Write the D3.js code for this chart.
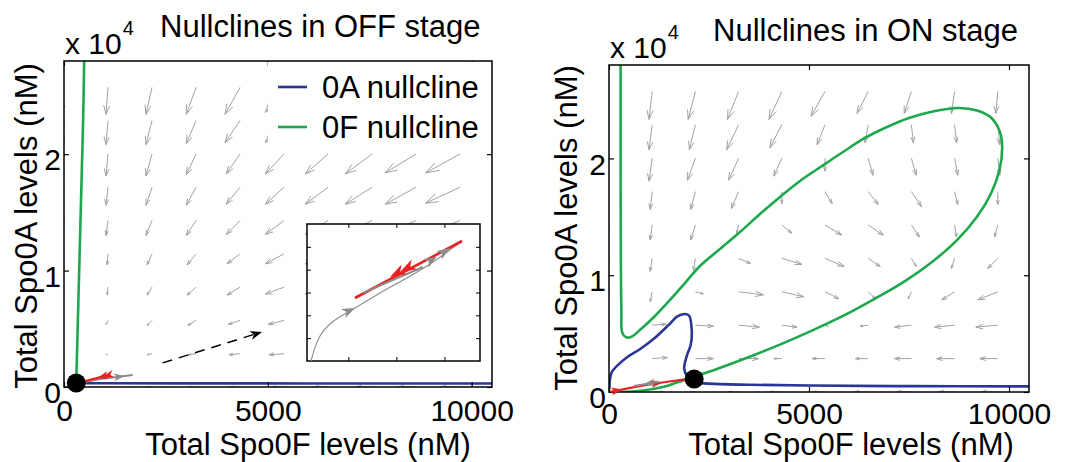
<!DOCTYPE html>
<html><head><meta charset="utf-8">
<script src="https://cdn.jsdelivr.net/npm/d3@7"></script>
<style>
body{margin:0;background:#fff}
text{font-family:"Liberation Sans",Arial,Helvetica,sans-serif;fill:#000}
</style>
</head><body>
<svg id="chart" width="1071" height="462"></svg>
<script>
// ---- axes / labels ----
const xTicks = [0, 5000, 10000];
const yTicks = [0, 10000, 20000];
const titles = ["Nullclines in OFF stage", "Nullclines in ON stage"];
const xLabel = "Total Spo0F levels (nM)";
const yLabel = "Total Spo0A levels (nM)";
const legendLabels = ["0A nullcline", "0F nullcline"];

// ---- vector-field grid (nM) ----
const xGrid = [0, 1080, 2160, 3240, 4320, 5400, 6480, 7560, 8640, 9720];
const yGrid = [0, 2860, 5720, 8580, 11440, 14300, 17160, 20020, 22880, 25740];

// OFF stage field components, rows follow yGrid, columns follow xGrid
const offU = [
  [0, -50, -120, -200, -240, -290, -340, -390, -440, -490],
  [0, -50, -120, -200, -270, -370, -460, -560, -660, -760],
  [-20, -50, -120, -200, -290, -390, -490, -590, -680, -780],
  [-50, -20, -120, -220, -320, -460, -560, -660, -760, -850],
  [-50, -20, -120, -220, -320, -460, -560, -660, -760, -850],
  [-50, -50, -150, -240, -340, -460, -560, -660, -760, -850],
  [-70, -50, -150, -240, -340, -460, -560, -660, -760, -850],
  [-70, -50, -150, -240, -340, -460, -560, -660, -760, -850],
  [-70, -50, -150, -240, -370, -460, -560, -660, -760, -850],
  [-70, -50, -150, -240, -370, -460, -560, -660, -760, -850]
];
const offV = [
  [0, 0, 0, 0, 0, 0, 0, 0, 0, 0],
  [-90, -90, -90, -90, -90, -90, -90, -90, -90, -90],
  [-340, -340, -430, -430, -340, -340, -340, -340, -340, -340],
  [-690, -690, -690, -690, -690, -600, -600, -600, -600, -600],
  [-950, -950, -950, -950, -860, -860, -860, -860, -860, -860],
  [-1290, -1290, -1290, -1290, -1200, -1200, -1200, -1120, -1120, -1120],
  [-1630, -1550, -1550, -1550, -1460, -1460, -1460, -1460, -1460, -1370],
  [-1890, -1890, -1890, -1800, -1720, -1720, -1720, -1720, -1630, -1630],
  [-2060, -2060, -2060, -1980, -1890, -1890, -1800, -1800, -1720, -1720],
  [-2320, -2320, -2320, -2320, -2320, -2150, -2060, -1980, -1890, -1800]
];

// ON stage field components
const onU = [
  [0, 300, -120, -250, -300, -320, -350, -380, -400, -420],
  [0, 380, 450, 500, -200, -320, -320, -420, -450, -450],
  [-20, 350, 450, 520, 380, 80, -200, -420, -500, -550],
  [-50, -50, 200, 620, 550, 350, 180, -80, -320, -500],
  [-80, -50, -50, 300, 500, 480, 300, 120, -80, -250],
  [-100, -50, -120, -50, 250, 420, 380, 200, 50, -80],
  [-120, -50, -120, -180, 0, 180, 250, 250, 80, 0],
  [-150, -80, -200, -250, -200, 0, 120, 120, 80, 50],
  [-180, -80, -150, -300, -300, -200, -80, 50, 50, 50],
  [-200, -80, -180, -280, -320, -350, -280, -180, -80, -50]
];
const onV = [
  [0, 0, 0, 0, 0, 0, 0, 0, 0, 0],
  [-170, 86, 0, 0, 0, 0, 0, 0, 0, 0],
  [-340, 86, -86, -170, -170, -86, -86, -170, -170, -170],
  [-690, -860, -170, -260, -430, -600, -600, -600, -690, -690],
  [-1030, -1110, -1030, -430, -510, -690, -690, -690, -860, -860],
  [-1370, -1290, -1290, -690, -690, -860, -860, -1030, -1030, -1030],
  [-1710, -1540, -1540, -1460, -1030, -1030, -1110, -1290, -1110, -1110],
  [-1890, -1970, -1890, -1890, -1540, -1110, -1460, -1460, -1460, -1460],
  [-2140, -2140, -2140, -2140, -1970, -1710, -1540, -1540, -1540, -1710],
  [-2140, -2400, -2400, -2400, -2400, -2140, -1890, -1890, -1890, -1890]
];

// ---- nullclines [Spo0F, Spo0A] in nM ----
const off0A = [[200, 320], [1000, 320], [3000, 315], [6000, 305], [10500, 300]];
const off0F = [[300, 300], [320, 3000], [350, 7000], [380, 11000], [410, 15000], [440, 19000], [470, 23000], [495, 28000]];
const on0A = [[10, 300], [25, 1100], [70, 1700], [220, 2300], [460, 3000], [790, 3700], [1120, 4550], [1480, 5700], [1700, 6450],
  [1880, 6680], [2000, 6550], [2070, 5200], [2040, 4000], [1950, 3150], [1880, 2000], [1950, 1370], [2120, 880],
  [2500, 720], [3500, 620], [5000, 560], [7500, 500], [10500, 480]];
const on0F = [[290, 28000], [290, 20000], [295, 12000], [310, 7000], [330, 5100], [420, 4700], [550, 4710], [800, 5395],
  [1150, 6510], [1525, 7880], [1900, 9330], [2275, 10790], [2775, 12250], [3275, 13700], [3775, 15240], [4275, 16700],
  [4775, 18070], [5325, 19350], [5850, 20550], [6400, 21750], [6950, 22690], [7500, 23460], [8150, 24060], [8750, 24320],
  [9200, 24100], [9550, 23500], [9780, 22200], [9830, 21000],
  [9760, 19000], [9550, 17000], [9200, 15000], [8700, 13000], [8100, 11200], [7400, 9500], [6650, 8000], [5900, 6600],
  [5100, 5300], [4300, 4100], [3500, 3000], [2800, 2100], [2300, 1500], [2000, 1150], [1700, 820], [1370, 450],
  [790, 100], [300, 0]];

// ---- steady states and trajectories ----
const offSteady = [300, 340];
const onSteady = [2130, 1110];
const offGrayPath = [[310, 330], [900, 680], [1685, 1040]];
const offGrayHeads = [[390, 378], [1490, 950]];
const offRedPath = [[1124, 1060], [780, 740], [432, 420]];
const offRedHeads = [[950, 880], [820, 770]];
const onRedPath = [[30, 20], [500, 330], [1000, 640], [1500, 900], [1950, 1110]];
const onRedHeads = [[330, 220], [1330, 820]];
const onGrayPath = [[1250, 880], [623, 514]];
const onGrayHeads = [[872, 668]];
const zoomArrow = [[2418, 2070], [4861, 4734]];

// ---- inset: close-up of the OFF-stage trajectory ----
const insetXTicks = [500, 1000, 1500];
const insetYTicks = [200, 400, 600, 800, 1000];
const insetGray = [[112, 0], [143, 96], [205, 219], [309, 324], [445, 403], [569, 464], [830, 596], [1090, 718], [1350, 850], [1683, 1051]];
const insetGrayBold = [[653, 596], [1277, 823]];
const insetGrayHeads = [[569, 464], [1420, 914], [1558, 987]];
const insetRed = [[569, 552], [1683, 1051]];
const insetRedHeads = [[934, 736], [1038, 780]];

const BLUE = "#2b3595", GREEN = "#1da84d", RED = "#ec2024", GRAY = "#8c8c8c", QGRAY = "#a3a3a3";

const svg = d3.select("#chart");

function arrowHead(g, x, y, angle, len, wid, color) {
  const p = `M0,0 L${-len},${-wid / 2} L${-0.72 * len},0 L${-len},${wid / 2} Z`;
  g.append("path").attr("d", p).attr("fill", color)
    .attr("transform", `translate(${x},${y}) rotate(${angle * 180 / Math.PI})`);
}

function quiver(g, sx, sy, U, V) {
  const a = 0.33, b = 0.33;
  yGrid.forEach((yv, r) => {
    xGrid.forEach((xv, c) => {
      const X = sx(xv), Y = sy(yv);
      const X2 = sx(xv + U[r][c]), Y2 = sy(yv + V[r][c]);
      const dx = X2 - X, dy = Y2 - Y;
      if (Math.hypot(dx, dy) < 0.5) return;
      const h1x = X2 - a * (dx + b * dy), h1y = Y2 - a * (dy - b * dx);
      const h2x = X2 - a * (dx - b * dy), h2y = Y2 - a * (dy + b * dx);
      g.append("path")
        .attr("d", `M${X},${Y}L${X2},${Y2}M${h1x},${h1y}L${X2},${Y2}L${h2x},${h2y}`)
        .attr("fill", "none").attr("stroke", QGRAY).attr("stroke-width", 1);
    });
  });
}

function panel(cfg) {
  const sx = d3.scaleLinear().domain([0, 10500]).range([cfg.x0, cfg.x1]);
  const sy = d3.scaleLinear().domain([0, 28000]).range([cfg.y0, cfg.y1]);
  const line = d3.line().x(d => sx(d[0])).y(d => sy(d[1]));
  const smooth = d3.line().x(d => sx(d[0])).y(d => sy(d[1])).curve(d3.curveCatmullRom.alpha(0.5));
  const clipId = "clip" + cfg.id;
  svg.append("clipPath").attr("id", clipId).append("rect")
    .attr("x", cfg.x0).attr("y", cfg.y1).attr("width", cfg.x1 - cfg.x0).attr("height", cfg.y0 - cfg.y1);

  const plot = svg.append("g").attr("clip-path", `url(#${clipId})`);
  quiver(plot, sx, sy, cfg.U, cfg.V);
  plot.append("path").attr("d", smooth(cfg.nA)).attr("fill", "none").attr("stroke", BLUE).attr("stroke-width", 2.6).attr("stroke-linejoin", "round");
  plot.append("path").attr("d", smooth(cfg.nF)).attr("fill", "none").attr("stroke", GREEN).attr("stroke-width", 2.6).attr("stroke-linejoin", "round");

  // axes
  const fmtY = d => d / 1e4;
  const gx = svg.append("g").attr("transform", `translate(0,${cfg.y0})`)
    .call(d3.axisBottom(sx).tickValues(xTicks).tickSizeInner(-5).tickSizeOuter(0).tickPadding(cfg.xPad).tickFormat(d => d));
  const gxt = svg.append("g").attr("transform", `translate(0,${cfg.y1})`)
    .call(d3.axisTop(sx).tickValues(xTicks).tickSizeInner(-5).tickSizeOuter(0).tickFormat(""));
  const gy = svg.append("g").attr("transform", `translate(${cfg.x0},0)`)
    .call(d3.axisLeft(sy).tickValues(yTicks).tickSizeInner(-5).tickSizeOuter(0).tickPadding(3).tickFormat(fmtY));
  const gyr = svg.append("g").attr("transform", `translate(${cfg.x1},0)`)
    .call(d3.axisRight(sy).tickValues(yTicks).tickSizeInner(-5).tickSizeOuter(0).tickFormat(""));
  [gx, gxt, gy, gyr].forEach(g => {
    g.select(".domain").remove();
    g.selectAll(".tick line").attr("stroke", "#000").attr("stroke-width", 1.2);
    g.selectAll("text").attr("font-size", 30).attr("font-family", null).attr("fill", "#000");
  });
  gy.selectAll("text").attr("dy", "0.52em");
  svg.append("rect").attr("x", cfg.x0).attr("y", cfg.y1).attr("width", cfg.x1 - cfg.x0).attr("height", cfg.y0 - cfg.y1)
    .attr("fill", "none").attr("stroke", "#000").attr("stroke-width", 1.5);

  // exponent marker
  const ex = svg.append("text").attr("x", cfg.x0 + 1).attr("y", cfg.y1 - 7).attr("font-size", 30);
  ex.append("tspan").text("x 10");
  ex.append("tspan").attr("font-size", 20).attr("dy", -19).attr("dx", 1).text("4");

  // titles and axis labels
  svg.append("text").attr("x", cfg.titleX).attr("y", cfg.titleY).attr("font-size", 31).text(cfg.title);
  svg.append("text").attr("x", cfg.xLabX).attr("y", cfg.xLabY).attr("font-size", 31).attr("text-anchor", "middle").text(xLabel);
  svg.append("text").attr("transform", `translate(${cfg.yLabX},${cfg.yLabY}) rotate(-90)`)
    .attr("font-size", 31).attr("text-anchor", "middle").text(yLabel);

  // trajectories
  const tg = svg.append("g");
  const drawTraj = (pts, heads, color, w) => {
    tg.append("path").attr("d", line(pts)).attr("fill", "none").attr("stroke", color).attr("stroke-width", w);
    heads.forEach(h => {
      // direction taken from the segment the head sits on
      let best = 0, bd = Infinity;
      for (let i = 0; i < pts.length - 1; i++) {
        const mx = (pts[i][0] + pts[i + 1][0]) / 2, my = (pts[i][1] + pts[i + 1][1]) / 2;
        const d = Math.hypot(sx(mx) - sx(h[0]), sy(my) - sy(h[1]));
        if (d < bd) { bd = d; best = i; }
      }
      const p0 = pts[best], p1 = pts[best + 1];
      const ang = Math.atan2(sy(p1[1]) - sy(p0[1]), sx(p1[0]) - sx(p0[0]));
      arrowHead(tg, sx(h[0]), sy(h[1]), ang, 11, 8, color);
    });
  };
  cfg.traj.forEach(t => drawTraj(t[0], t[1], t[2], t[3]));
  svg.append("circle").attr("cx", sx(cfg.steady[0])).attr("cy", sy(cfg.steady[1])).attr("r", 9.5).attr("fill", "#000");
  return { sx, sy, line };
}

// OFF stage
const L = panel({
  id: "off", x0: 64, x1: 492, y0: 387, y1: 61, U: offU, V: offV, nA: off0A, nF: off0F, xPad: 13,
  title: titles[0], titleX: 160, titleY: 37, xLabX: 308, xLabY: 455, yLabX: 37, yLabY: 226,
  steady: offSteady,
  traj: [[offGrayPath, offGrayHeads, GRAY, 2], [offRedPath, offRedHeads, RED, 2.2]]
});

// dashed pointer to the close-up
{
  const a = zoomArrow.map(p => [L.sx(p[0]), L.sy(p[1])]);
  const ang = Math.atan2(a[1][1] - a[0][1], a[1][0] - a[0][0]);
  svg.append("line").attr("x1", a[0][0]).attr("y1", a[0][1])
    .attr("x2", a[1][0] - 8 * Math.cos(ang)).attr("y2", a[1][1] - 8 * Math.sin(ang))
    .attr("stroke", "#000").attr("stroke-width", 1.5).attr("stroke-dasharray", "10,7");
  arrowHead(svg, a[1][0], a[1][1], ang, 12, 9, "#000");
}

// inset
{
  const ix = d3.scaleLinear().domain([70, 1870]).range([307, 480]);
  const iy = d3.scaleLinear().domain([0, 1200]).range([361, 224]);
  const il = d3.line().x(d => ix(d[0])).y(d => iy(d[1])).curve(d3.curveMonotoneX);
  const g = svg.append("g");
  g.append("rect").attr("x", 307).attr("y", 224).attr("width", 173).attr("height", 137)
    .attr("fill", "#fff").attr("stroke", "#000").attr("stroke-width", 1.5);
  g.call(sel => {
    const gb = sel.append("g").attr("transform", "translate(0,361)")
      .call(d3.axisBottom(ix).tickValues(insetXTicks).tickSizeInner(-4).tickSizeOuter(0).tickFormat(""));
    const gt = sel.append("g").attr("transform", "translate(0,224)")
      .call(d3.axisTop(ix).tickValues(insetXTicks).tickSizeInner(-4).tickSizeOuter(0).tickFormat(""));
    const gl = sel.append("g").attr("transform", "translate(307,0)")
      .call(d3.axisLeft(iy).tickValues(insetYTicks).tickSizeInner(-4).tickSizeOuter(0).tickFormat(""));
    const gr = sel.append("g").attr("transform", "translate(480,0)")
      .call(d3.axisRight(iy).tickValues(insetYTicks).tickSizeInner(-4).tickSizeOuter(0).tickFormat(""));
    [gb, gt, gl, gr].forEach(a => { a.select(".domain").remove(); a.selectAll(".tick line").attr("stroke", "#000"); });
  });
  g.append("path").attr("d", il(insetGray)).attr("fill", "none").attr("stroke", GRAY).attr("stroke-width", 1.1);
  g.append("path").attr("d", d3.line().x(d => ix(d[0])).y(d => iy(d[1]))(insetRed))
    .attr("fill", "none").attr("stroke", RED).attr("stroke-width", 2.6);
  g.append("path").attr("d", d3.line().x(d => ix(d[0])).y(d => iy(d[1]))(insetGrayBold))
    .attr("fill", "none").attr("stroke", GRAY).attr("stroke-width", 2);
  const gAng = Math.atan2(iy(insetGray[9][1]) - iy(insetGray[5][1]), ix(insetGray[9][0]) - ix(insetGray[5][0]));
  const rAng = Math.atan2(iy(insetRed[0][1]) - iy(insetRed[1][1]), ix(insetRed[0][0]) - ix(insetRed[1][0]));
  insetGrayHeads.forEach((h, i) => arrowHead(g, ix(h[0]), iy(h[1]), i === 0 ? gAng + 0.12 : gAng, 13, 10, GRAY));
  insetRedHeads.forEach(h => arrowHead(g, ix(h[0]), iy(h[1]), rAng, 16, 11, RED));
}

// legend
{
  const g = svg.append("g");
  g.append("rect").attr("x", 268).attr("y", 62).attr("width", 223).attr("height", 83).attr("fill", "#fff");
  const colors = [BLUE, GREEN];
  legendLabels.forEach((t, i) => {
    const y = 87 + i * 40;
    g.append("line").attr("x1", 278).attr("x2", 307).attr("y1", y).attr("y2", y).attr("stroke", colors[i]).attr("stroke-width", 2.6);
    g.append("text").attr("x", 322).attr("y", y + 11).attr("font-size", 31).text(t);
  });
}

// ON stage
panel({
  id: "on", x0: 609, x1: 1029, y0: 392, y1: 65, U: onU, V: onV, nA: on0A, nF: on0F, xPad: 11,
  title: titles[1], titleX: 713, titleY: 41, xLabX: 851, xLabY: 455, yLabX: 577, yLabY: 228,
  steady: onSteady,
  traj: [[onRedPath, onRedHeads, RED, 2.2], [onGrayPath, onGrayHeads, GRAY, 2]]
});
</script>
</body></html>
